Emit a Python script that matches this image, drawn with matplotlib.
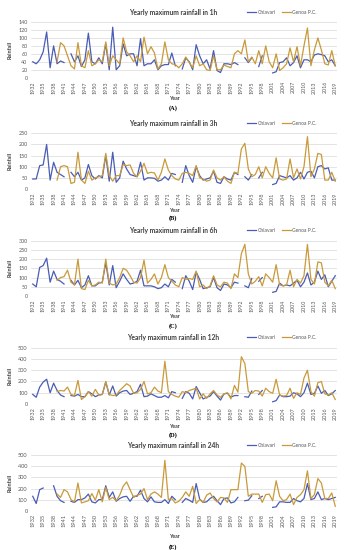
import matplotlib as mpl
mpl.use('Agg')
import matplotlib.pyplot as plt
import numpy as np

nan = np.nan

years = list(range(1932, 2020))
tick_years = list(range(1932, 2020, 3))

durations = ['1h', '3h', '6h', '12h', '24h']
panel_tags = ['(A)', '(B)', '(C)', '(D)', '(E)']
y_max = [140, 250, 300, 500, 500]
y_step = [20, 50, 50, 100, 100]

# yearly maxima, 1932-2019 (nan = missing year)
chiavari_1h = [40, 35, 45, 65, 115, 25, 80, 35, 42, 38,
               nan, 60, 40, 55, 28, 45, 112, 40, 35, 50,
               35, 85, 20, 127, 20, 30, 85, 55, 60, 60,
               30, 98, 30, 35, 35, 45, 20, 30, 33, 33,
               62, 30, nan, 22, 50, 40, 20, 83, 55, 35,
               45, 22, 68, 18, 13, 35, 35, 33, 38, 33,
               nan, 50, 38, 50, nan, 28, 55, nan, nan, 12,
               15, 38, 40, 50, 30, 38, 55, 25, 45, 45,
               40, 57, 60, 58, 55, 40, 45, 30]
genoa_1h = [nan, nan, nan, nan, nan, nan, nan, 40, 88, 80,
            55, 30, 22, 88, 30, 25, 68, 30, 35, 45,
            40, 90, 30, 55, 45, 35, 100, 65, 55, 40,
            55, 40, 102, 60, 78, 62, 22, 35, 90, 45,
            35, 33, 25, 35, 52, 38, 25, 55, 30, 35,
            20, 18, 55, 20, 20, 32, 28, 25, 60, 68,
            60, 95, 40, 52, 35, 68, 35, 80, 40, 25,
            60, 18, 25, 35, 75, 40, 78, 30, 80, 125,
            30, 70, 100, 70, 35, 32, 68, 30]

chiavari_3h = [45, 45, 105, 108, 200, 40, 120, 75, 65, 55,
               nan, 75, 55, 75, 40, 50, 110, 60, 45, 60,
               50, 150, 35, 165, 30, 50, 125, 90, 65, 60,
               55, 120, 40, 50, 50, 48, 35, 40, 55, 40,
               70, 65, nan, 30, 105, 60, 30, 100, 60, 40,
               45, 50, 80, 30, 25, 55, 45, 40, 75, 65,
               nan, 55, 40, 65, nan, 50, 75, nan, nan, 20,
               25, 60, 55, 50, 60, 40, 50, 75, 45, 75,
               80, 50, 100, 105, 90, 95, 40, 40]
genoa_3h = [nan, nan, nan, nan, nan, nan, nan, 40, 100, 105,
            100, 25, 30, 165, 40, 25, 80, 40, 50, 55,
            60, 160, 60, 35, 60, 60, 110, 105, 108, 70,
            55, 80, 115, 70, 75, 72, 40, 75, 135, 85,
            60, 45, 40, 70, 75, 70, 60, 105, 50, 45,
            35, 40, 85, 50, 40, 55, 35, 25, 75, 70,
            180, 205, 90, 55, 65, 100, 50, 100, 70, 50,
            140, 45, 40, 45, 135, 50, 90, 45, 100, 235,
            55, 90, 160, 155, 40, 40, 75, 35]

chiavari_6h = [65, 50, 155, 165, 205, 75, 135, 90, 80, 65,
               nan, 85, 60, 85, 45, 60, 110, 55, 55, 70,
               75, 180, 60, 165, 45, 80, 120, 90, 65, 70,
               80, 140, 55, 55, 55, 50, 40, 45, 65, 50,
               90, 75, nan, 40, 110, 80, 35, 130, 90, 40,
               45, 50, 100, 45, 30, 65, 60, 45, 75, 70,
               nan, 55, 45, 95, nan, 80, 100, nan, nan, 20,
               25, 70, 55, 60, 55, 70, 85, 50, 75, 125,
               60, 75, 135, 90, 115, 50, 80, 110]
genoa_6h = [nan, nan, nan, nan, nan, nan, nan, 85, 100, 105,
            140, 75, 60, 200, 40, 35, 85, 55, 60, 75,
            70, 200, 70, 60, 65, 100, 150, 140, 110, 75,
            70, 100, 195, 70, 90, 120, 65, 100, 170, 100,
            80, 60, 50, 100, 90, 95, 90, 135, 50, 60,
            40, 55, 110, 60, 50, 75, 70, 40, 120, 100,
            230, 280, 120, 65, 80, 105, 55, 120, 100, 75,
            170, 60, 55, 60, 140, 50, 90, 70, 110, 280,
            90, 65, 185, 180, 75, 55, 85, 40]

chiavari_12h = [85, 60, 150, 195, 220, 100, 185, 120, 80, 65,
                nan, 75, 70, 85, 65, 65, 110, 90, 65, 80,
                85, 195, 80, 160, 70, 100, 115, 120, 85, 95,
                110, 175, 65, 70, 90, 75, 60, 60, 75, 55,
                110, 100, nan, 50, 110, 95, 45, 155, 100, 45,
                60, 70, 110, 70, 35, 90, 95, 60, 75, 75,
                nan, 65, 60, 115, nan, 85, 120, nan, nan, 20,
                30, 80, 65, 65, 70, 100, 90, 65, 100, 185,
                85, 95, 160, 95, 120, 75, 90, 120]
genoa_12h = [nan, nan, nan, nan, nan, nan, nan, 110, 120, 115,
             150, 85, 75, 210, 40, 65, 110, 70, 130, 80,
             85, 200, 85, 75, 80, 120, 150, 180, 160, 95,
             100, 130, 200, 90, 100, 150, 115, 100, 380, 110,
             85, 70, 60, 110, 100, 120, 130, 140, 45, 90,
             50, 90, 120, 80, 60, 90, 100, 45, 165, 105,
             420, 360, 110, 95, 120, 115, 70, 140, 110, 95,
             220, 80, 70, 75, 140, 50, 100, 85, 230, 300,
             110, 70, 190, 200, 90, 80, 100, 40]

chiavari_24h = [130, 65, 190, 205, nan, nan, 225, 130, 90, 75,
                nan, 85, 75, 100, 100, 115, 150, 80, 70, 100,
                100, 225, 120, 170, 85, 110, 125, 130, 85, 130,
                130, 185, 110, 80, 125, 80, 75, 75, 100, 65,
                130, 100, nan, 75, 110, 95, 75, 245, 105, 75,
                80, 110, 130, 90, 55, 110, 115, 70, 80, 120,
                nan, 90, 95, 135, nan, 110, 130, nan, nan, 30,
                35, 80, 80, 75, 75, 110, 90, 80, 110, 245,
                100, 110, 170, 100, 110, 100, 110, 120]
genoa_24h = [nan, nan, nan, nan, nan, nan, nan, 150, 120, 190,
             170, 100, 80, 250, 70, 80, 90, 155, 95, 190,
             80, 210, 100, 120, 90, 140, 220, 260, 190, 120,
             140, 150, 200, 100, 150, 170, 150, 120, 455, 100,
             110, 70, 85, 120, 170, 130, 220, 65, 100, 75,
             140, 160, 110, 80, 120, 115, 75, 190, 190, 190,
             430, 400, 130, 150, 150, 150, 75, 145, 150, 90,
             270, 130, 90, 100, 150, 55, 120, 145, 190, 360,
             110, 145, 290, 250, 110, 110, 160, 40]

chiavari = [chiavari_1h, chiavari_3h, chiavari_6h, chiavari_12h, chiavari_24h]
genoa = [genoa_1h, genoa_3h, genoa_6h, genoa_12h, genoa_24h]

##########

W, H = 346, 550
# (axes top px, axes bottom px, year label px, tag px, tick font size) per panel
layout = [(22, 77.7, 99, 108.5, 3.9),
          (133.3, 189, 210, 218.5, 3.9),
          (240.7, 296, 317, 326, 3.9),
          (347.7, 404, 426.5, 435.5, 4.0),
          (455.3, 510.7, 536.5, 547.5, 4.1)]
left, right = 31, 337

blue = '#4a5cb4'
gold = '#c99a3a'
grey = '#595959'
plt.rcParams['font.family'] = ['Lato', 'DejaVu Sans']

fig = plt.figure(figsize=(W / 100, H / 100), dpi=100)

for i in range(5):
    top, bot, ylab, tag, fs = layout[i]
    ax = fig.add_axes([left / W, 1 - bot / H, (right - left) / W, (bot - top) / H])

    ax.plot(years, chiavari[i], color=blue, lw=0.9, label='Chiavari')
    ax.plot(years, genoa[i], color=gold, lw=0.9, label='Genoa P.C.')

    ax.set_xlim(1931.5, 2019.5)
    ax.set_ylim(0, y_max[i])
    ax.set_yticks(range(0, y_max[i] + 1, y_step[i]))
    ax.set_xticks(tick_years)
    ax.set_xticklabels([str(y) for y in tick_years], rotation=90)
    ax.tick_params(length=0, labelsize=fs, colors=grey, pad=2.5)
    ax.grid(axis='y', color='#d9d9d9', lw=0.5)
    ax.set_axisbelow(True)
    for s in ax.spines.values():
        s.set_visible(False)

    ax.set_ylabel('Rainfall', fontsize=3.9, color='#404040', fontweight='bold', labelpad=4)

    h = bot - top
    ax.text(0.464, 1 + 10 / h, 'Yearly maximum rainfall in ' + durations[i],
            transform=ax.transAxes, ha='center', va='center',
            fontsize=4.9, fontweight='bold', color='#404040')
    ax.legend(loc='center', bbox_to_anchor=(0.82, 1 + 10 / h), ncol=2, frameon=False,
              fontsize=3.6, handlelength=1.8, columnspacing=1.2, handletextpad=0.3,
              labelcolor=grey, borderpad=0)

    fig.text(175 / W, 1 - ylab / H, 'Year', ha='center', va='center',
             fontsize=3.7, fontweight='bold', color='#404040')
    fig.text(173 / W, 1 - tag / H, panel_tags[i], ha='center', va='center',
             fontsize=4.6, fontweight='bold', family='Liberation Serif', color='black')

fig.savefig('out.png', dpi=100)
